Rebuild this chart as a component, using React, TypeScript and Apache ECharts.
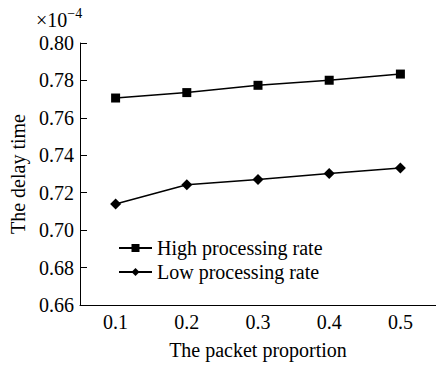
import React, { useEffect, useRef } from "react";
import * as echarts from "echarts";

const categories = ["0.1", "0.2", "0.3", "0.4", "0.5"];
const highRate = [0.7706, 0.7735, 0.7774, 0.7801, 0.7834];
const lowRate = [0.714, 0.7243, 0.7271, 0.7303, 0.7332];
const seriesNames = ["High processing rate", "Low processing rate"];

const FONT = "Liberation Serif";
const FS = 20;

export default function App() {
  const ref = useRef<HTMLDivElement>(null);
  useEffect(() => {
    if (!ref.current) return;
    const chart = echarts.init(ref.current, null, { renderer: "svg" });
    chart.setOption({
      animation: false,
      backgroundColor: "#ffffff",
      textStyle: { fontFamily: FONT, color: "#000" },
      grid: { left: 76, top: 43, width: 362, height: 274, containLabel: false },
      legend: {
        orient: "vertical",
        left: 118,
        top: 238,
        padding: 0,
        itemWidth: 33,
        itemHeight: 10,
        itemGap: 4,
        textStyle: { fontFamily: FONT, fontSize: FS, color: "#000" },
        data: seriesNames,
      },
      graphic: [
        {
          type: "text",
          left: 36,
          top: 6,
          style: {
            text: "{base|×10}{sup|−4}",
            fill: "#000",
            rich: {
              base: { fontSize: FS, fontFamily: FONT, verticalAlign: "bottom", lineHeight: 24 },
              sup: { fontSize: 14, fontFamily: FONT, verticalAlign: "top", lineHeight: 14 },
            },
          },
        },
      ],
      xAxis: {
        type: "category",
        data: categories,
        name: "The packet proportion",
        nameLocation: "middle",
        nameGap: 35,
        nameTextStyle: { fontFamily: FONT, fontSize: FS, color: "#000" },
        axisLine: { lineStyle: { color: "#000", width: 1 } },
        axisTick: { inside: true, length: 7, lineStyle: { color: "#000" } },
        axisLabel: { fontFamily: FONT, fontSize: FS, color: "#000", margin: 7 },
        splitLine: { show: false },
      },
      yAxis: {
        type: "value",
        min: 0.66,
        max: 0.8,
        interval: 0.02,
        name: "The delay time",
        nameLocation: "middle",
        nameGap: 52,
        nameTextStyle: { fontFamily: FONT, fontSize: FS, color: "#000" },
        axisLine: { show: true, lineStyle: { color: "#000", width: 1 } },
        axisTick: { show: true, inside: true, length: 7, lineStyle: { color: "#000" } },
        axisLabel: {
          fontFamily: FONT,
          fontSize: FS,
          color: "#000",
          margin: 6,
          formatter: (v: number) => v.toFixed(2),
        },
        splitLine: { show: false },
      },
      series: [
        {
          name: seriesNames[0],
          type: "line",
          data: highRate,
          symbol: "rect",
          symbolSize: 9,
          itemStyle: { color: "#000" },
          lineStyle: { color: "#000", width: 1.5 },
        },
        {
          name: seriesNames[1],
          type: "line",
          data: lowRate,
          symbol: "diamond",
          symbolSize: 11,
          itemStyle: { color: "#000" },
          lineStyle: { color: "#000", width: 1.5 },
        },
      ],
    });
    return () => chart.dispose();
  }, []);
  return (
    <div
      ref={ref}
      style={{ position: "fixed", left: 0, top: 0, width: 436, height: 365 }}
    />
  );
}
